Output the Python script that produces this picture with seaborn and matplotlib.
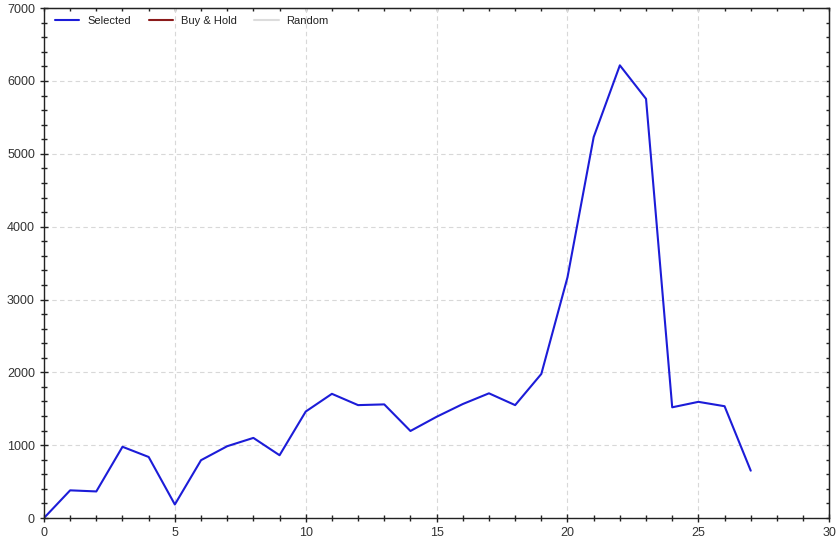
import matplotlib
matplotlib.use("Agg")
import matplotlib.pyplot as plt
from matplotlib.ticker import MultipleLocator
import seaborn as sns
import pandas as pd

periods = list(range(28))
selected = [0, 380, 365, 978, 838, 186, 794, 986, 1100, 862, 1462, 1705, 1550, 1560, 1195,
            1390, 1565, 1712, 1550, 1978, 3305, 5230, 6215, 5755, 1520, 1595, 1535, 650]
series_names = ["Selected", "Buy & Hold", "Random"]
series_colors = ["#1c1cd8", "#8b1a1a", "#dcdcdc"]

sns.set_style("white")
plt.rcParams['font.family'] = ['Liberation Sans', 'DejaVu Sans']

fig = plt.figure(figsize=(8.39, 5.43), dpi=100)
ax = fig.add_axes([0.0524, 0.046, 0.936, 0.939])

df = pd.DataFrame({"x": periods, "y": selected})
sns.lineplot(data=df, x="x", y="y", ax=ax, color=series_colors[0], linewidth=1.5,
             label=series_names[0])
for name, col in zip(series_names[1:], series_colors[1:]):
    ax.plot([], [], color=col, linewidth=1.5, label=name)

ax.set_xlim(0, 30)
ax.set_ylim(0, 7000)
ax.xaxis.set_major_locator(MultipleLocator(5))
ax.xaxis.set_minor_locator(MultipleLocator(1))
ax.yaxis.set_major_locator(MultipleLocator(1000))
ax.yaxis.set_minor_locator(MultipleLocator(200))
ax.set_xlabel("")
ax.set_ylabel("")
ax.grid(True, which="major", linestyle=(0, (4, 3)), color="#d8d8d8", linewidth=0.8)
for s in ax.spines.values():
    s.set_color("#222222")
    s.set_linewidth(1.0)
ax.tick_params(which="both", direction="inout", color="#222222", labelsize=9,
               labelcolor="#333333", bottom=True, left=True)
ax.tick_params(which="major", length=6, width=1)
ax.tick_params(which="minor", length=4, width=1)

# inward ticks on top and right spines
sec_x = ax.secondary_xaxis("top")
sec_x.xaxis.set_major_locator(MultipleLocator(5))
sec_x.xaxis.set_minor_locator(MultipleLocator(1))
sec_x.tick_params(which="both", direction="in", length=2.5, width=1, color="#222222",
                  labeltop=False)
sec_y = ax.secondary_yaxis("right")
sec_y.yaxis.set_major_locator(MultipleLocator(1000))
sec_y.yaxis.set_minor_locator(MultipleLocator(200))
sec_y.tick_params(which="both", direction="in", length=2.5, width=1, color="#222222",
                  labelright=False)
for sa in (sec_x, sec_y):
    for s in sa.spines.values():
        s.set_color("#222222")

leg = ax.legend(loc="upper left", ncol=3, frameon=False, fontsize=8,
                handlelength=2.2, handletextpad=0.7, columnspacing=1.6,
                borderaxespad=0.3, bbox_to_anchor=(0.004, 1.0))
for t in leg.get_texts():
    t.set_color("#222222")

fig.savefig("out.png", dpi=100)
